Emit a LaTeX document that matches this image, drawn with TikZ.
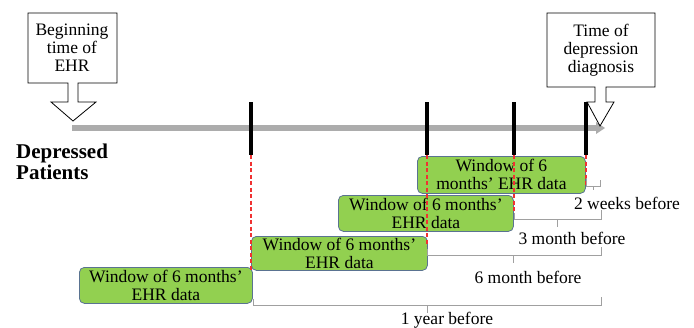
\documentclass[tikz,border=0pt]{standalone}
\usepackage{fontspec}
\setmainfont{Liberation Serif}
\usetikzlibrary{positioning,calc}

\definecolor{winfill}{RGB}{146,208,80}
\definecolor{winedge}{RGB}{90,115,145}
\definecolor{axisgray}{RGB}{172,172,172}
\definecolor{bracegray}{RGB}{160,160,160}
\definecolor{guidered}{RGB}{240,50,50}

\begin{document}
\begin{tikzpicture}[x=1pt,y=-1pt,font=\fontsize{17.5}{18}\selectfont,
  window/.style={draw=winedge,fill=winfill,rounded corners=5pt,line width=0.8pt,
    anchor=north west,inner sep=0pt,align=center,minimum height=36pt},
  tickmark/.style={line width=3.5pt},
  guide/.style={guidered,dash pattern=on 4pt off 2.5pt,line width=1.4pt},
  brace/.style={bracegray,line width=1pt},
  lbl/.style={inner sep=0pt}]
  \useasboundingbox (0,0) rectangle (694,327);

  % timeline
  \coordinate (start) at (72,128);
  \coordinate (diag) at (605,128);
  \draw[axisgray,line width=5.5pt] (start) -- ($(diag)+(-8,0)$);
  \fill[axisgray] ($(diag)+(-9,-6)$) -- (diag) -- ($(diag)+(-9,6)$) -- cycle;

  % callouts
  \node[lbl,align=center] (ehr) at (72,48) {Beginning\\time of\\EHR};
  \draw[line width=0.8pt] (68,83) -- (28,83) -- (28,13) -- (117,13) -- (117,83) -- (78,83)
    -- (78,102) -- (96,102) -- (73,121) -- (51,102) -- (68,102) -- cycle;
  \node[lbl,align=center] (dx) at (601,50) {Time of\\depression\\diagnosis};
  \draw[line width=0.8pt] (595,87) -- (547,87) -- (547,13) -- (655,13) -- (655,87) -- (606,87)
    -- (606,102) -- (614,102) -- (600,126) -- (587,102) -- (595,102) -- cycle;

  \node[lbl,font=\fontsize{21}{21}\selectfont\bfseries,align=left,anchor=west] (dep) at (16,162) {Depressed\\Patients};

  % ticks
  \foreach \n/\x in {a/251,b/427,c/514,d/586}{
    \coordinate (\n-top) at (\x,102);
    \coordinate (\n-bot) at (\x,155);
    \draw[tickmark] (\n-top) -- (\n-bot);
  }

  % windows
  \node[window,minimum width=168pt,minimum height=37pt] (w1) at (417,156) {Window of 6\\months' EHR data};
  \node[window,minimum width=175pt] (w2) at (338,195) {Window of 6 months'\\EHR data};
  \node[window,minimum width=176pt,minimum height=34pt] (w3) at (251,236) {Window of 6 months'\\EHR data};
  \node[window,minimum width=173pt] (w4) at (79,267) {Window of 6 months'\\EHR data};

  % guides
  \draw[guide] (a-bot) -- (251,270);
  \draw[guide] (b-bot) -- (427,246);
  \draw[guide] (c-bot) -- (514,212);
  \draw[guide] (d-bot) -- (586,186);

  % brackets
  \draw[brace] (586,178) -- (586,186) -- (600,186) -- (600,180);
  \draw[brace] (593,186) -- (593,190);
  \draw[brace] (514,213) -- (514,219) -- (601,219) -- (601,210);
  \draw[brace] (557,219) -- (557,227);
  \draw[brace] (427,249) -- (427,255) -- (601,255) -- (601,247);
  \draw[brace] (513,255) -- (513,263);
  \draw[brace] (253,299) -- (253,305) -- (601,305) -- (601,297);
  \draw[brace] (427,305) -- (427,313);

  \node[lbl] (l2w) at (627,203) {2 weeks before};
  \node[lbl] (l3m) at (572,238) {3 month before};
  \node[lbl] (l6m) at (528,277) {6 month before};
  \node[lbl] (l1y) at (447,320) {1 year before};
\end{tikzpicture}
\end{document}
